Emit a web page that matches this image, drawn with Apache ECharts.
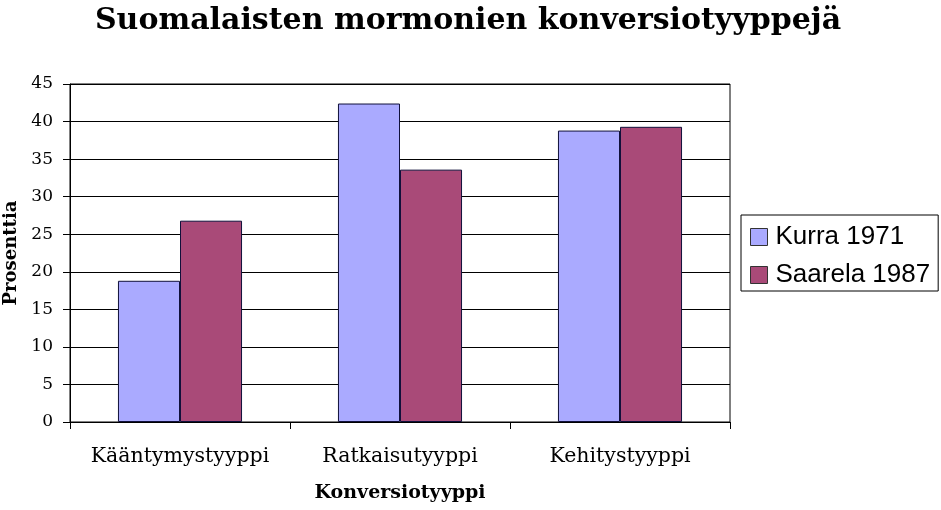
<!DOCTYPE html>
<html><head><meta charset="utf-8">
<script src="https://cdn.jsdelivr.net/npm/echarts@6/dist/echarts.min.js"></script>
<style>html,body{margin:0;padding:0;background:#fff}#c{width:941px;height:510px}</style>
</head><body><div id="c"></div>
<script>
const categories = ['Kääntymystyyppi', 'Ratkaisutyyppi', 'Kehitystyyppi'];
const kurra1971 = [18.8, 42.4, 38.8];
const saarela1987 = [26.8, 33.6, 39.3];
const seriesNames = ['Kurra 1971', 'Saarela 1987'];

const chart = echarts.init(document.getElementById('c'));
const serif = 'DejaVu Serif';
chart.setOption({
  animation: false,
  backgroundColor: '#fff',
  title: {
    text: 'Suomalaisten mormonien konversiotyyppejä',
    left: 463, textAlign: 'center', top: 1,
    textStyle: {fontFamily: serif, fontWeight: 'bold', fontSize: 30, color: '#000'}
  },
  legend: {
    orient: 'vertical', left: 741, top: 215,
    data: seriesNames,
    itemWidth: 17, itemHeight: 17, itemGap: 8,
    padding: [7, 8, 1, 9],
    borderColor: '#000', borderWidth: 1,
    icon: 'rect',
    itemStyle: {borderColor: '#333', borderWidth: 1},
    textStyle: {fontFamily: 'Liberation Sans', fontSize: 26, lineHeight: 30, color: '#000', padding: [0, 0, 0, 3]}
  },
  grid: {left: 70, right: 211, top: 84, bottom: 88, show: true, borderColor: '#000', borderWidth: 1,
         containLabel: false, outerBoundsMode: 'none'},
  xAxis: {
    type: 'category', data: categories,
    name: 'Konversiotyyppi', nameLocation: 'middle', nameGap: 62,
    nameTextStyle: {fontFamily: serif, fontWeight: 'bold', fontSize: 19, color: '#000'},
    axisLine: {lineStyle: {color: '#000', width: 1}},
    axisTick: {show: true, interval: 0, length: 7, inside: false, lineStyle: {color: '#000'}},
    axisLabel: {interval: 0, fontFamily: serif, fontSize: 20.5, color: '#000', margin: 24}
  },
  yAxis: {
    type: 'value', min: 0, max: 45, interval: 5,
    name: 'Prosenttia', nameLocation: 'middle', nameGap: 47,
    nameTextStyle: {fontFamily: serif, fontWeight: 'bold', fontSize: 18, color: '#000'},
    axisLine: {show: true, lineStyle: {color: '#000', width: 1}},
    axisTick: {show: true, length: 7, lineStyle: {color: '#000'}},
    axisLabel: {fontFamily: serif, fontSize: 17, color: '#000', margin: 17},
    splitLine: {lineStyle: {color: '#000', width: 1}}
  },
  series: [
    {name: seriesNames[0], type: 'bar', data: kurra1971, barGap: '0%', barCategoryGap: '43.6%',
     itemStyle: {color: '#aaaaff', borderColor: '#10103a', borderWidth: 1}},
    {name: seriesNames[1], type: 'bar', data: saarela1987,
     itemStyle: {color: '#a94a78', borderColor: '#10103a', borderWidth: 1}}
  ]
});
</script></body></html>
